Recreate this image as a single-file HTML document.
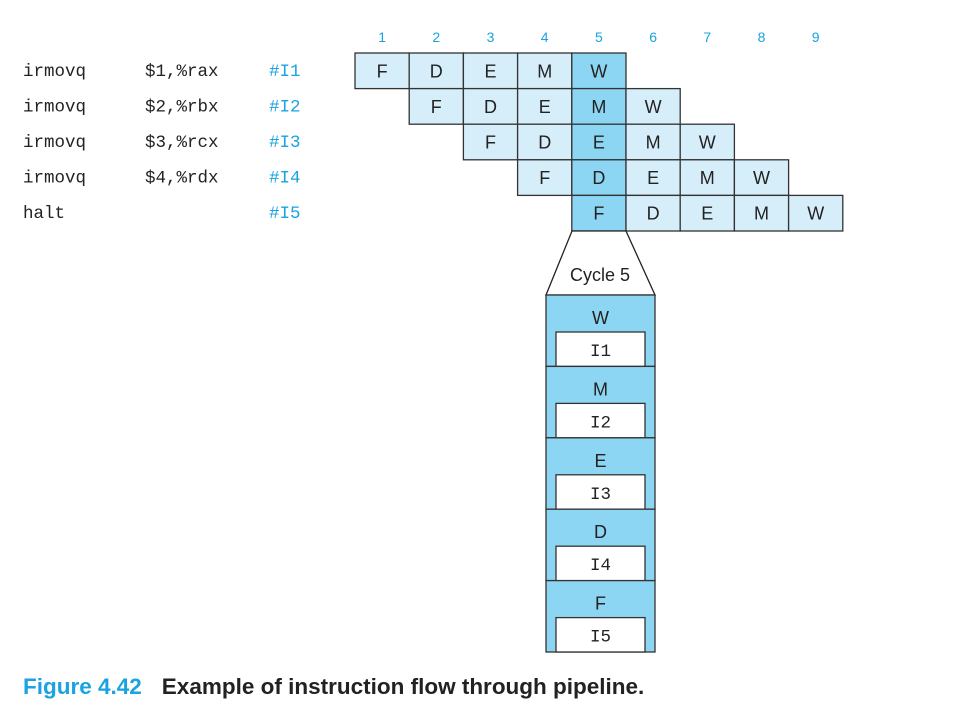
<!DOCTYPE html>
<html><head><meta charset="utf-8"><style>
body{margin:0;background:#fff;width:968px;height:722px;overflow:hidden}
svg{display:block}
.sf{font-family:"Liberation Sans",sans-serif}
.mono{font-family:"Liberation Mono",monospace;font-size:17.5px}
</style></head><body>
<svg id="fig" width="968" height="722" viewBox="0 0 968 722">
<g id="code"></g>
<g id="cycles"></g>
<g id="grid"></g>
<polygon points="572,231 626,231 655,295 546,295" fill="#fff" stroke="#222" stroke-width="1.3"/>
<text x="600" y="281" text-anchor="middle" class="sf" font-size="18" fill="#222">Cycle 5</text>
<g id="stack"></g>
<text x="23" y="694" class="sf" font-size="22.5" font-weight="bold"><tspan fill="#1aa3e0">Figure 4.42</tspan><tspan fill="#222" dx="20">Example of instruction flow through pipeline.</tspan></text>
</svg>
<script>
const ops = ["irmovq","irmovq","irmovq","irmovq","halt"];
const args = ["$1,%rax","$2,%rbx","$3,%rcx","$4,%rdx",""];
const tags = ["#I1","#I2","#I3","#I4","#I5"];
const stages = ["F","D","E","M","W"];
const cycleLabels = [1,2,3,4,5,6,7,8,9];
const startCycle = [1,2,3,4,5];
const highlightCycle = 5;
const NS="http://www.w3.org/2000/svg";
function mk(tag,attrs,parent,txt){const e=document.createElementNS(NS,tag);for(const k in attrs)e.setAttribute(k,attrs[k]);if(txt!==undefined)e.textContent=txt;parent.appendChild(e);return e;}
const x0=355,cw=54.2,y0=53,rh=35.6;
const cx=c=>x0+(c-1)*cw;
const ry=r=>y0+r*rh;
const code=document.getElementById('code');
ops.forEach((o,i)=>{
  const y=ry(i)+rh/2+5;
  let t=mk('text',{x:23,y:y,class:'mono',fill:'#222'},code,o);
  
  
  t=mk('text',{x:145,y:y,class:'mono',fill:'#222'},code,args[i]);
  
  
  t=mk('text',{x:269,y:y,class:'mono',fill:'#1aa3e0'},code,tags[i]);
  
  
});
const cyc=document.getElementById('cycles');
cycleLabels.forEach(c=>{
  const t=mk('text',{x:cx(c)+cw/2,y:42,'text-anchor':'middle',class:'sf','font-size':14,fill:'#1aa3e0'},cyc,String(c));
  
  
});
const grid=document.getElementById('grid');
startCycle.forEach((s,i)=>{
  stages.forEach((st,j)=>{
    const c=s+j;
    const g=mk('g',{},grid);
    
    
    mk('rect',{x:cx(c),y:ry(i),width:cw,height:rh,fill:c===highlightCycle?'#8dd6f3':'#d6eef9',stroke:'#333','stroke-width':1.3},g);
    mk('text',{x:cx(c)+cw/2,y:ry(i)+rh/2+6.5,'text-anchor':'middle',class:'sf','font-size':18,fill:'#222'},g,st);
  });
});
const stack=document.getElementById('stack');
const sx=546,sw=109,sy=295,sh=71.4;
const order=[...stages].reverse();
order.forEach((st,k)=>{
  const idx=startCycle.findIndex(s=>highlightCycle-s===stages.indexOf(st));
  const g=mk('g',{},stack);
  
  
  const y=sy+k*sh;
  mk('rect',{x:sx,y:y,width:sw,height:sh,fill:'#8dd6f3',stroke:'#333','stroke-width':1.3},g);
  mk('text',{x:sx+sw/2,y:y+29,'text-anchor':'middle',class:'sf','font-size':18,fill:'#222'},g,st);
  mk('rect',{x:556,y:y+37,width:89,height:sh-37,fill:'#fff',stroke:'#333','stroke-width':1.3},g);
  mk('text',{x:sx+sw/2,y:y+61,'text-anchor':'middle',class:'mono',fill:'#222'},g,idx>=0?'I'+(idx+1):'');
});
</script>
</body></html>
